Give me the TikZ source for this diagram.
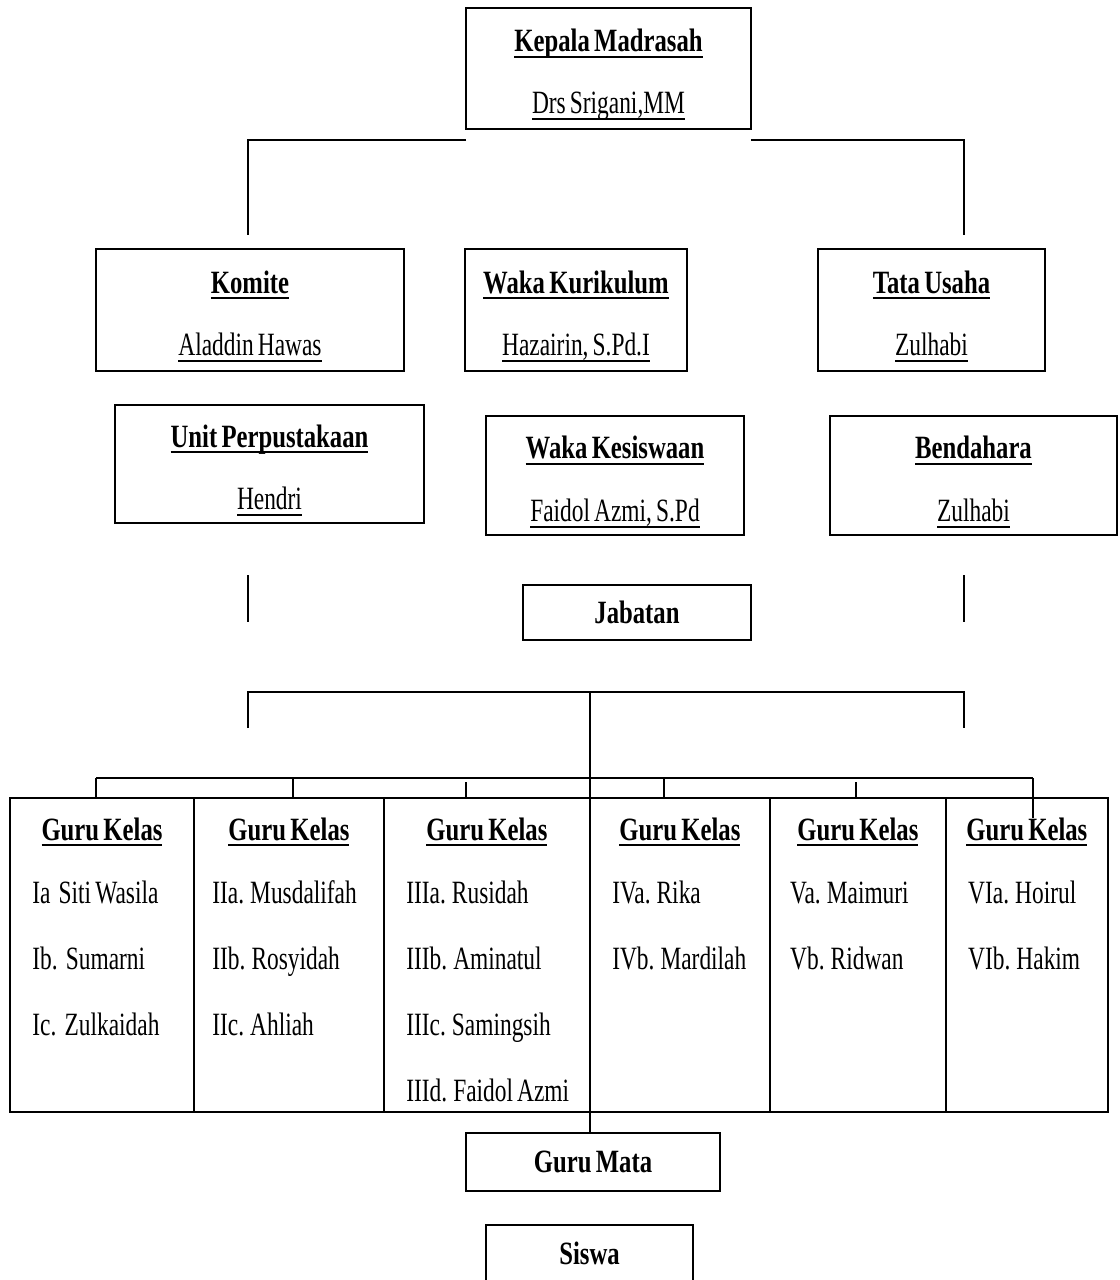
\documentclass[tikz,border=0pt]{standalone}
\usepackage{fontspec}
\setmainfont{Liberation Serif}[FakeStretch=0.72, WordSpace=0.7, BoldFeatures={FakeStretch=0.76}]
\usepackage{tikz}
\usetikzlibrary{positioning,calc}
\newcommand{\nm}[1]{\setbox0=\hbox{#1}\leavevmode\rlap{\copy0}\rule[-3.6pt]{\wd0}{1.1pt}}
\newcommand{\jdl}[1]{\rule{0pt}{20pt}\nm{\textbf{#1}}}

\begin{document}
\begin{tikzpicture}[
    x=0.02cm, y=-0.02cm,
    font=\fontsize{18.5}{22}\selectfont,
    kotak/.style={draw=black, line width=1.1pt, align=center, inner sep=0pt, outer sep=0pt},
    kolom/.style={draw=black, line width=1.1pt, inner sep=0pt, outer sep=0pt, minimum height=6.28cm},
    garis/.style={draw=black, line width=1pt}
  ]
  \useasboundingbox (0,0) rectangle (1119,1280);

  % --- PIMPINAN ---
  \node[kotak, minimum width=5.7cm, minimum height=2.42cm] (kepala) at (608.5,68.5) {\jdl{Kepala Madrasah}\\[13.7pt]\nm{Drs Srigani,MM}};

  \node[kotak, minimum width=6.16cm, minimum height=2.44cm] (komite) at (250,310) {\jdl{Komite}\\[13.7pt]\nm{Aladdin Hawas}};
  \node[kotak, minimum width=4.44cm, minimum height=2.44cm] (kurikulum) at (576,310) {\jdl{Waka Kurikulum}\\[13.7pt]\nm{Hazairin, S.Pd.I}};
  \node[kotak, minimum width=4.54cm, minimum height=2.44cm] (tatausaha) at (931.5,310) {\jdl{Tata Usaha}\\[13.7pt]\nm{Zulhabi}};

  \node[kotak, minimum width=6.18cm, minimum height=2.36cm] (perpus) at (269.5,464) {\jdl{Unit Perpustakaan}\\[13.7pt]\nm{Hendri}};
  \node[kotak, minimum width=5.16cm, minimum height=2.38cm] (kesiswaan) at (615,475.5) {\jdl{Waka Kesiswaan}\\[13.7pt]\nm{Faidol Azmi, S.Pd}};
  \node[kotak, minimum width=5.74cm, minimum height=2.38cm] (bendahara) at (973.5,475.5) {\jdl{Bendahara}\\[13.7pt]\nm{Zulhabi}};

  \node[kotak, minimum width=4.56cm, minimum height=1.1cm] (jabatan) at (637,612.5) {\textbf{Jabatan}};

  % --- GURU KELAS ---
  \node[kolom, minimum width=3.68cm] (kolom1) at (102,955) {};
  \node[kolom, minimum width=3.8cm, right=0pt of kolom1] (kolom2) {};
  \node[kolom, minimum width=4.12cm, right=0pt of kolom2] (kolom3) {};
  \node[kolom, minimum width=3.6cm, right=0pt of kolom3] (kolom4) {};
  \node[kolom, minimum width=3.52cm, right=0pt of kolom4] (kolom5) {};
  \node[kolom, minimum width=3.24cm, right=0pt of kolom5] (kolom6) {};

  \node[anchor=base] (gk1) at ($(kolom1.north)+(0,42)$) {\nm{\textbf{Guru Kelas}}};
  \node[anchor=base] (gk2) at ($(kolom2.north)+(0,42)$) {\nm{\textbf{Guru Kelas}}};
  \node[anchor=base] (gk3) at ($(kolom3.north)+(0,42)$) {\nm{\textbf{Guru Kelas}}};
  \node[anchor=base] (gk4) at ($(kolom4.north)+(0,42)$) {\nm{\textbf{Guru Kelas}}};
  \node[anchor=base] (gk5) at ($(kolom5.north)+(0,42)$) {\nm{\textbf{Guru Kelas}}};
  \node[anchor=base] (gk6) at ($(kolom6.north)+(0,42)$) {\nm{\textbf{Guru Kelas}}};

  \node[anchor=base west, inner sep=0pt] (ia) at ($(kolom1.north west)+(22,105)$) {Ia\ \ Siti Wasila};
  \node[anchor=base west, inner sep=0pt] (ib) at ($(kolom1.north west)+(22,171)$) {Ib.\ \ Sumarni};
  \node[anchor=base west, inner sep=0pt] (ic) at ($(kolom1.north west)+(22,237)$) {Ic.\ \ Zulkaidah};

  \node[anchor=base west, inner sep=0pt] (iia) at ($(kolom2.north west)+(18,105)$) {IIa. Musdalifah};
  \node[anchor=base west, inner sep=0pt] (iib) at ($(kolom2.north west)+(18,171)$) {IIb. Rosyidah};
  \node[anchor=base west, inner sep=0pt] (iic) at ($(kolom2.north west)+(18,237)$) {IIc. Ahliah};

  \node[anchor=base west, inner sep=0pt] (iiia) at ($(kolom3.north west)+(22,105)$) {IIIa. Rusidah};
  \node[anchor=base west, inner sep=0pt] (iiib) at ($(kolom3.north west)+(22,171)$) {IIIb. Aminatul};
  \node[anchor=base west, inner sep=0pt] (iiic) at ($(kolom3.north west)+(22,237)$) {IIIc. Samingsih};
  \node[anchor=base west, inner sep=0pt] (iiid) at ($(kolom3.north west)+(22,303)$) {IIId. Faidol Azmi};

  \node[anchor=base west, inner sep=0pt] (iva) at ($(kolom4.north west)+(22,105)$) {IVa. Rika};
  \node[anchor=base west, inner sep=0pt] (ivb) at ($(kolom4.north west)+(22,171)$) {IVb. Mardilah};

  \node[anchor=base west, inner sep=0pt] (va) at ($(kolom5.north west)+(20,105)$) {Va. Maimuri};
  \node[anchor=base west, inner sep=0pt] (vb) at ($(kolom5.north west)+(20,171)$) {Vb. Ridwan};

  \node[anchor=base west, inner sep=0pt] (via) at ($(kolom6.north west)+(22,105)$) {VIa. Hoirul};
  \node[anchor=base west, inner sep=0pt] (vib) at ($(kolom6.north west)+(22,171)$) {VIb. Hakim};

  % --- BAWAH ---
  \node[kotak, minimum width=5.08cm, minimum height=1.16cm] (gurumata) at (593,1162) {\textbf{Guru Mata}};
  \node[kotak, minimum width=4.14cm, minimum height=1.12cm] (siswa) at (589.5,1253) {\textbf{Siswa}};

  % --- GARIS ---
  \draw[garis] (kepala.south west) ++(0,11) -| ($(komite.north)+(-2,-14)$);
  \draw[garis] (kepala.south east) ++(0,11) -| ($(tatausaha.north)+(32.5,-14)$);

  \coordinate (kiriA) at (248,575);
  \coordinate (kiriB) at (248,622);
  \coordinate (kananA) at (964,575);
  \coordinate (kananB) at (964,622);
  \draw[garis] (kiriA) -- (kiriB);
  \draw[garis] (kananA) -- (kananB);

  \coordinate (simpul) at (590,692);
  \coordinate (kiriC) at (248,728);
  \coordinate (kananC) at (964,728);
  \draw[garis] (kiriC) |- (simpul) -| (kananC);
  \draw[garis] (simpul) -- (simpul |- gurumata.north);

  \coordinate (t1) at (96,778);
  \coordinate (t2) at (293,778);
  \coordinate (t3) at (466,778);
  \coordinate (t4) at (664,778);
  \coordinate (t5) at (856,778);
  \coordinate (t6) at (1033,778);
  \draw[garis] (t1) -- (t6);
  \draw[garis] (t1) -- (t1 |- kolom1.north);
  \draw[garis] (t2) -- (t2 |- kolom2.north);
  \draw[garis] ($(t3)+(0,4)$) -- (t3 |- kolom3.north);
  \draw[garis] (t4) -- (t4 |- kolom4.north);
  \draw[garis] ($(t5)+(0,4)$) -- (t5 |- kolom5.north);
  \draw[garis] (t6) -- ++(0,40);

\end{tikzpicture}
\end{document}
